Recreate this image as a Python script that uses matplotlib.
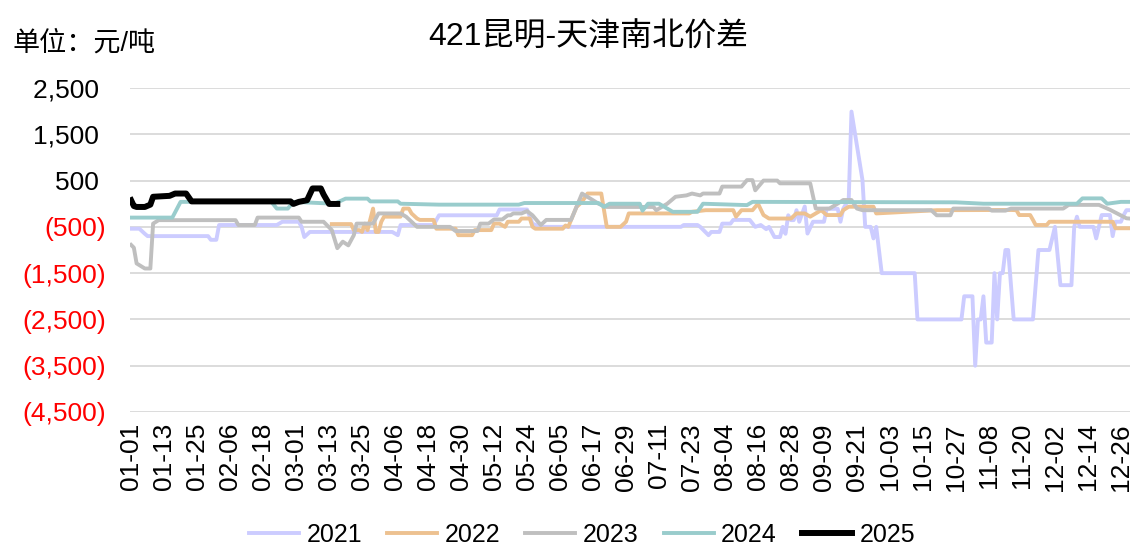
import matplotlib
matplotlib.use('Agg')
import matplotlib.pyplot as plt
from matplotlib.ticker import FixedLocator

plt.rcParams['font.family'] = ['Liberation Sans', 'Noto Sans CJK SC', 'DejaVu Sans']

# day-of-year (leap calendar, 0 = 01-01) and spread value (yuan/ton)
days_2021 = [0, 3, 5, 6, 28, 29, 31, 32, 53, 55, 61, 62, 63, 65, 95, 97, 98, 110, 112, 133, 134,
             144, 146, 149, 200, 201, 206, 207, 210, 211, 214, 215, 218, 219, 225, 227, 229, 231,
             232, 234, 236, 237, 238, 239, 240, 241, 242, 243, 245, 246, 248, 252, 253, 257, 258,
             259, 261, 262, 266, 267, 269, 270, 271, 273, 285, 286, 302, 303, 306, 307, 308, 309,
             310, 311, 313, 314, 315, 316, 317, 318, 319, 321, 328, 330, 334, 336, 338, 342, 343,
             344, 345, 350, 351, 353, 356, 357, 358, 360, 361, 362, 363]
vals_2021 = [-540, -540, -650, -700, -700, -780, -780, -460, -460, -390, -390, -500, -720, -610,
             -610, -680, -460, -460, -250, -250, -125, -125, -430, -500, -500, -460, -460, -500,
             -680, -610, -610, -430, -430, -350, -350, -500, -460, -550, -500, -720, -720, -500,
             -650, -250, -355, -355, -140, -390, -60, -645, -390, -390, -110, -110, -390, -110,
             100, 1990, 510, -500, -500, -750, -500, -1500, -1500, -2500, -2500, -2000, -2000,
             -3500, -2500, -2500, -2000, -3000, -3000, -1500, -2500, -1500, -1500, -1000, -1000,
             -2500, -2500, -1000, -1000, -500, -1760, -1760, -500, -280, -500, -500, -750, -245,
             -245, -700, -390, -390, -245, -140, -140]

days_2022 = [73, 80, 81, 83, 84, 85, 86, 88, 89, 90, 91, 92, 98, 99, 101, 102, 104, 105, 110, 111,
             118, 119, 124, 125, 131, 132, 134, 136, 137, 141, 142, 145, 146, 147, 157, 158, 159,
             161, 162, 164, 166, 171, 173, 178, 180, 181, 203, 204, 209, 219, 220, 222, 226, 228,
             230, 232, 240, 242, 245, 247, 251, 253, 258, 259, 261, 270, 271, 293, 320, 322, 323,
             327, 328, 329, 333, 334, 357, 358, 363]
vals_2022 = [-440, -440, -570, -570, -610, -430, -570, -105, -610, -610, -390, -280, -280, -105,
             -105, -210, -320, -350, -350, -540, -540, -680, -680, -570, -570, -430, -430, -500,
             -390, -390, -320, -320, -500, -540, -540, -470, -500, -210, -70, 40, 220, 220, -500,
             -500, -390, -210, -210, -175, -140, -140, -280, -140, -140, 0, -245, -320, -320, -210,
             -210, -280, -140, -245, -245, -140, -65, -65, -210, -140, -135, -140, -245, -245, -350,
             -460, -460, -390, -390, -530, -530]

days_2023 = [0, 1, 2, 5, 7, 8, 10, 38, 39, 45, 46, 61, 62, 70, 73, 75, 77, 79, 81, 82, 88, 90, 98,
             100, 104, 116, 118, 126, 127, 130, 132, 135, 137, 138, 139, 142, 144, 146, 149, 151,
             160, 161, 164, 168, 170, 173, 190, 191, 195, 198, 202, 204, 207, 208, 214, 215, 222,
             224, 226, 227, 230, 235, 236, 247, 249, 254, 258, 259, 262, 264, 266, 291, 293, 298,
             299, 312, 313, 318, 320, 339, 341, 352, 356, 362, 363]
vals_2023 = [-890, -950, -1290, -1400, -1400, -430, -355, -355, -460, -460, -300, -300, -390, -390,
             -570, -960, -820, -900, -680, -430, -430, -210, -210, -280, -500, -500, -590, -590,
             -430, -430, -340, -340, -250, -250, -210, -210, -160, -250, -460, -350, -350, -210,
             220, 75, 0, -70, -70, -140, 0, 150, 180, 220, 180, 220, 220, 370, 370, 510, 510, 290,
             500, 500, 440, 440, -105, -105, 40, 80, 80, -105, -140, -140, -250, -250, -105, -105,
             -150, -150, -105, -105, -25, -25, -130, -315, -320]

days_2024 = [0, 15, 18, 51, 53, 57, 59, 74, 78, 86, 87, 97, 98, 112, 141, 143, 170, 172, 174, 185,
             186, 188, 192, 197, 206, 208, 224, 226, 300, 310, 344, 346, 353, 355, 360, 363]
vals_2024 = [-300, -300, 40, 40, -105, -105, 40, 0, 110, 110, 50, 50, 0, -20, -20, 15, 15, -70, 0,
             0, -150, 0, 0, -175, -175, 0, -30, 40, 30, 0, 0, 115, 115, 0, 40, 40]

days_2025 = [0, 1, 2, 5, 7, 8, 14, 16, 20, 22, 58, 59, 61, 64, 66, 69, 70, 72, 75]
vals_2025 = [75, -50, -70, -70, -20, 150, 170, 220, 220, 50, 50, -5, 40, 75, 330, 330, 200, -5, -5]

series = [
    ('2021', days_2021, vals_2021, '#CCCCFF', 2.8),
    ('2022', days_2022, vals_2022, '#EDC190', 2.8),
    ('2023', days_2023, vals_2023, '#BFBFBF', 2.8),
    ('2024', days_2024, vals_2024, '#99CCCC', 2.8),
    ('2025', days_2025, vals_2025, '#000000', 4.3),
]

tick_days = list(range(0, 361, 12))
tick_labels = ['01-01', '01-13', '01-25', '02-06', '02-18', '03-01', '03-13', '03-25', '04-06',
               '04-18', '04-30', '05-12', '05-24', '06-05', '06-17', '06-29', '07-11', '07-23',
               '08-04', '08-16', '08-28', '09-09', '09-21', '10-03', '10-15', '10-27', '11-08',
               '11-20', '12-02', '12-14', '12-26']
y_ticks = [2500, 1500, 500, -500, -1500, -2500, -3500, -4500]

fig = plt.figure(figsize=(11.3, 5.47), dpi=100)
ax = fig.add_axes([130 / 1130, 135 / 547, 1000 / 1130, 324 / 547])

for name, d, v, c, lw in series:
    ax.plot(d, v, color=c, lw=lw, label=name, solid_joinstyle='round')

ax.set_xlim(-0.4, 363.3)
ax.set_ylim(-4500, 2500)
ax.yaxis.set_major_locator(FixedLocator(y_ticks))
ax.set_yticks(y_ticks)
ylabels = []
for t in y_ticks:
    if t < 0:
        ylabels.append('({:,})'.format(-t))
    else:
        ylabels.append('{:,} '.format(t))
ax.set_yticklabels(ylabels, fontsize=19)
for lab, t in zip(ax.get_yticklabels(), y_ticks):
    lab.set_color('red' if t < 0 else 'black')

ax.set_xticks(tick_days)
ax.set_xticklabels(tick_labels, rotation=90, fontsize=19)
ax.tick_params(axis='both', length=0)
ax.tick_params(axis='y', pad=17)
ax.tick_params(axis='x', pad=8)
ax.grid(axis='y', color='#D9D9D9', lw=1.3)
ax.set_axisbelow(True)
for s in ax.spines.values():
    s.set_visible(False)

fig.text(588 / 1130, 1 - 38 / 547, '421昆明-天津南北价差', ha='center', va='center', fontsize=23)
fig.text(12 / 1130, 1 - 44 / 547, '单位：元/吨', ha='left', va='center', fontsize=19.5)

fig.legend(loc='center', bbox_to_anchor=(582 / 1130, 12 / 547), ncol=5, frameon=False,
           fontsize=18, handlelength=2.0, handletextpad=0.3, columnspacing=1.0)

fig.savefig('out.png', dpi=100)
